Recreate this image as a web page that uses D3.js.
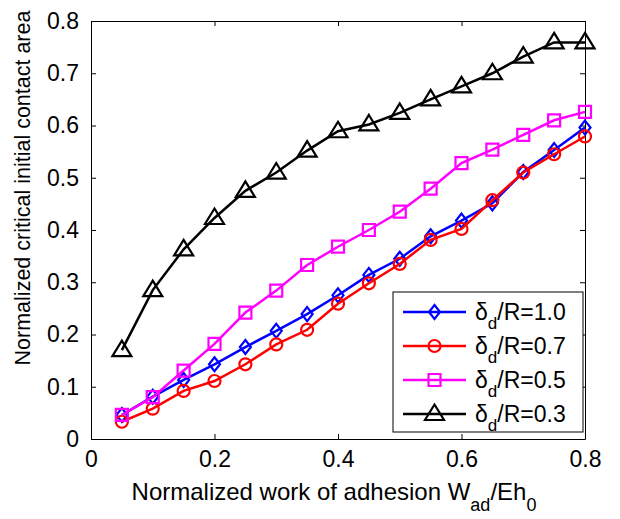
<!DOCTYPE html>
<html>
<head>
<meta charset="utf-8">
<script src="https://cdn.jsdelivr.net/npm/d3@7"></script>
<style>
  body { margin: 0; background: #fff; }
  text { font-family: "Liberation Sans", Arial, sans-serif; fill: #000; }
</style>
</head>
<body>
<svg id="chart" width="620" height="519"></svg>
<script>
// normalized work of adhesion W_ad/Eh_0
const workAdhesion = [0.05, 0.1, 0.15, 0.2, 0.25, 0.3, 0.35, 0.4, 0.45, 0.5, 0.55, 0.6, 0.65, 0.7, 0.75, 0.8];

// normalized critical initial contact area, one list per delta_d/R
const area10 = [0.046, 0.081, 0.113, 0.143, 0.176, 0.207, 0.239, 0.275, 0.314, 0.345, 0.388, 0.418, 0.451, 0.511, 0.553, 0.596];
const area07 = [0.033, 0.058, 0.092, 0.111, 0.143, 0.181, 0.209, 0.259, 0.298, 0.335, 0.381, 0.402, 0.457, 0.510, 0.545, 0.579];
const area05 = [0.046, 0.080, 0.131, 0.182, 0.242, 0.284, 0.333, 0.368, 0.400, 0.435, 0.479, 0.528, 0.554, 0.582, 0.610, 0.626];
const area03 = [0.170, 0.285, 0.363, 0.423, 0.475, 0.510, 0.552, 0.589, 0.602, 0.624, 0.650, 0.675, 0.700, 0.732, 0.759, 0.759];

const seriesNames = ['1.0', '0.7', '0.5', '0.3'];
const xTicks = [0, 0.2, 0.4, 0.6, 0.8];
const yTicks = [0, 0.1, 0.2, 0.3, 0.4, 0.5, 0.6, 0.7, 0.8];

const margin = {top: 21, right: 35, bottom: 80, left: 91};
const width = 620, height = 519;
const svg = d3.select('#chart');

const x = d3.scaleLinear().domain([0, 0.8]).range([margin.left, width - margin.right]);
const y = d3.scaleLinear().domain([0, 0.8]).range([height - margin.bottom, margin.top]);

// custom marker shapes (matlab style)
const diamond = {draw(ctx, s) { ctx.moveTo(0, -7); ctx.lineTo(5.5, 0); ctx.lineTo(0, 7); ctx.lineTo(-5.5, 0); ctx.closePath(); }};
const square = {draw(ctx, s) { ctx.rect(-6, -6, 12, 12); }};
const circle = {draw(ctx, s) { ctx.moveTo(6, 0); ctx.arc(0, 0, 6, 0, 2 * Math.PI); }};
const triangle = {draw(ctx, s) { ctx.moveTo(0, -9.5); ctx.lineTo(9.5, 6); ctx.lineTo(-9.5, 6); ctx.closePath(); }};

const series = [
  {name: seriesNames[0], values: area10, color: '#0000ff', shape: diamond},
  {name: seriesNames[1], values: area07, color: '#ff0000', shape: circle},
  {name: seriesNames[2], values: area05, color: '#ff00ff', shape: square},
  {name: seriesNames[3], values: area03, color: '#000000', shape: triangle}
];

// axes box
const plotW = x.range()[1] - x.range()[0];
const plotH = y.range()[0] - y.range()[1];

svg.append('rect')
  .attr('x', x(0)).attr('y', y(0.8))
  .attr('width', plotW).attr('height', plotH)
  .attr('fill', '#fff');

const fmt = d => d === 0 ? '0' : d3.format('.1f')(d);

const xAxis = svg.append('g')
  .attr('transform', `translate(0,${y(0)})`)
  .call(d3.axisBottom(x).tickValues(xTicks).tickSizeInner(-5).tickSizeOuter(0).tickPadding(12).tickFormat(fmt));
xAxis.selectAll('text').style('font-size', '23px');

const yAxis = svg.append('g')
  .attr('transform', `translate(${x(0)},0)`)
  .call(d3.axisLeft(y).tickValues(yTicks).tickSizeInner(-5).tickSizeOuter(0).tickPadding(12).tickFormat(fmt));
yAxis.selectAll('text').style('font-size', '23px');

svg.append('g')
  .attr('transform', `translate(0,${y(0.8)})`)
  .call(d3.axisTop(x).tickValues(xTicks).tickSizeInner(-5).tickSizeOuter(0).tickFormat(''));
svg.append('g')
  .attr('transform', `translate(${x(0.8)},0)`)
  .call(d3.axisRight(y).tickValues(yTicks).tickSizeInner(-5).tickSizeOuter(0).tickFormat(''));

svg.selectAll('.domain').attr('stroke', '#000');
svg.selectAll('.tick line').attr('stroke', '#000');

// series lines + markers
const line = d3.line().x((d, i) => x(workAdhesion[i])).y(d => y(d));

series.forEach(s => {
  const g = svg.append('g');
  g.append('path')
    .attr('d', line(s.values))
    .attr('fill', 'none')
    .attr('stroke', s.color)
    .attr('stroke-width', 2.5);
  g.selectAll('path.marker')
    .data(s.values)
    .join('path')
      .attr('class', 'marker')
      .attr('d', d3.symbol().type(s.shape))
      .attr('transform', (d, i) => `translate(${x(workAdhesion[i])},${y(d)})`)
      .attr('fill', 'none')
      .attr('stroke', s.color)
      .attr('stroke-width', 2.2);
});

// legend
const legend = svg.append('g').attr('transform', 'translate(393,292)');
legend.append('rect')
  .attr('width', 190).attr('height', 140)
  .attr('fill', '#fff').attr('stroke', '#000').attr('stroke-width', 1);

series.forEach((s, i) => {
  const row = legend.append('g').attr('transform', `translate(0,${20 + i * 34})`);
  row.append('line')
    .attr('x1', 10).attr('x2', 73)
    .attr('stroke', s.color).attr('stroke-width', 2.5);
  row.append('path')
    .attr('d', d3.symbol().type(s.shape))
    .attr('transform', 'translate(41.5,0)')
    .attr('fill', 'none').attr('stroke', s.color).attr('stroke-width', 2.2);
  const t = row.append('text')
    .attr('x', 82).attr('y', 8)
    .style('font-size', '23px');
  t.append('tspan').text('δ');
  t.append('tspan').attr('dy', 9).style('font-size', '17px').text('d');
  t.append('tspan').attr('dy', -9).text(`/R=${s.name}`);
});

// axis labels
const xl = svg.append('text')
  .attr('x', (x(0) + x(0.8)) / 2 - 4).attr('y', 500)
  .attr('text-anchor', 'middle')
  .style('font-size', '24px');
xl.append('tspan').text('Normalized work of adhesion W');
xl.append('tspan').attr('dy', 11).style('font-size', '18px').text('ad');
xl.append('tspan').attr('dy', -11).text('/Eh');
xl.append('tspan').attr('dy', 11).style('font-size', '18px').text('0');

svg.append('text')
  .attr('transform', `translate(30,${(y(0) + y(0.8)) / 2 - 42}) rotate(-90)`)
  .attr('text-anchor', 'middle')
  .style('font-size', '21.5px')
  .text('Normalized critical initial contact area');
</script>
</body>
</html>
